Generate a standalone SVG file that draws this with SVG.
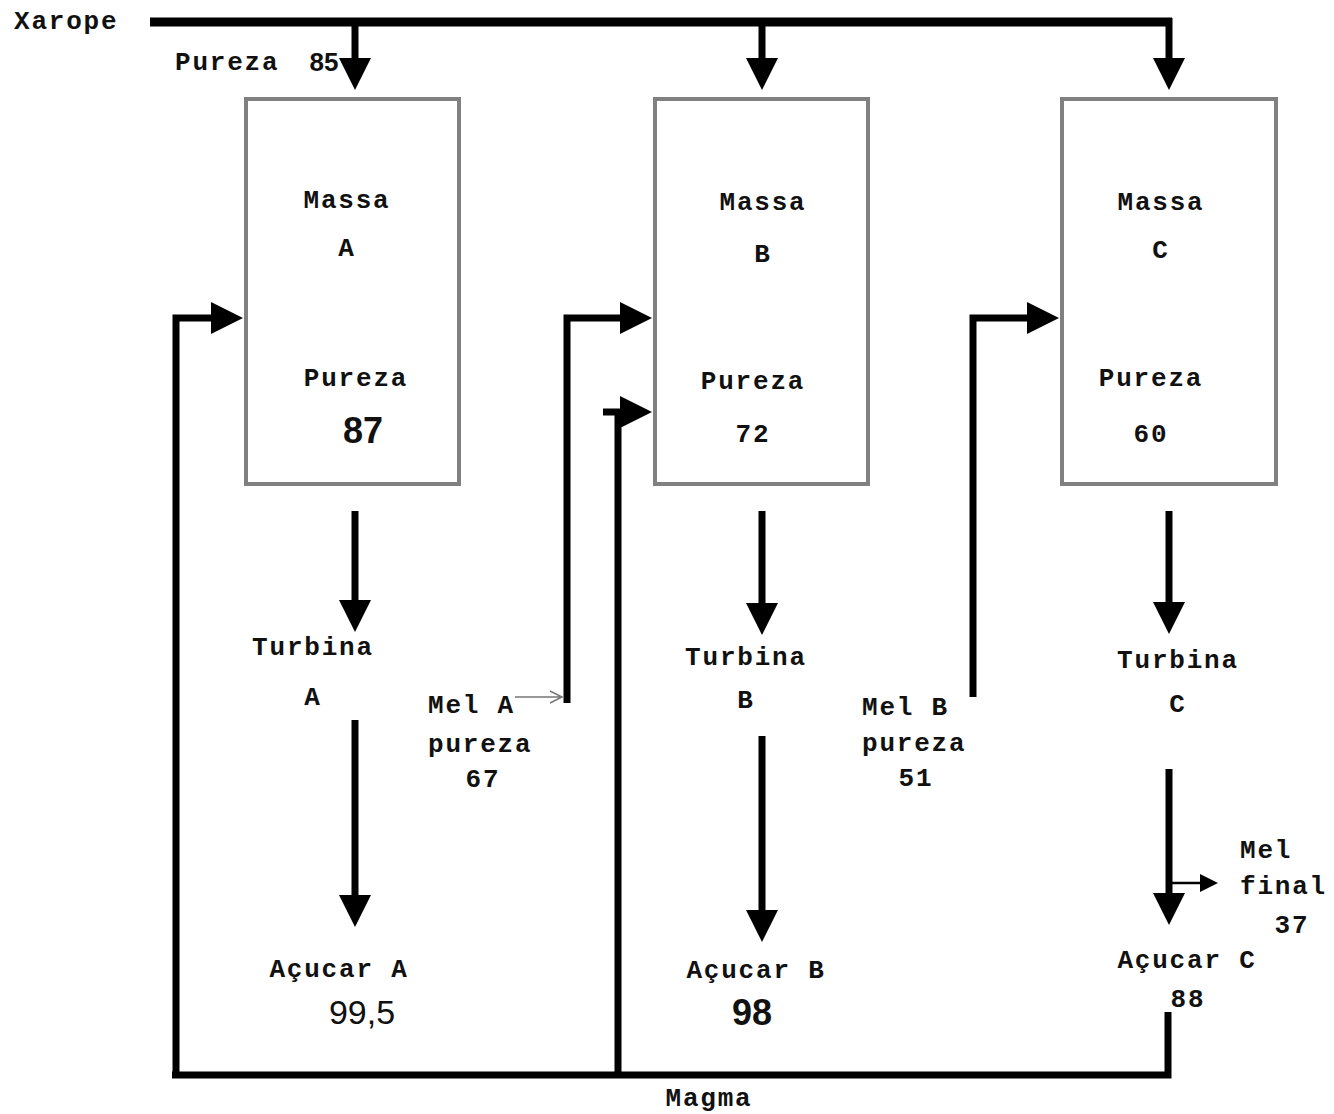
<svg xmlns="http://www.w3.org/2000/svg" width="1334" height="1114" viewBox="0 0 1334 1114">
<style>
.t{font-family:"Liberation Mono","DejaVu Sans Mono",monospace;font-size:26px;letter-spacing:1.8px;fill:#111;font-weight:bold}
.m{text-anchor:middle}
.n{font-family:"Liberation Sans",Arial,sans-serif;fill:#111;text-anchor:middle}
.box{fill:#fff;stroke:#808080;stroke-width:4}
.ln{fill:none;stroke:#000;stroke-width:7}
</style>
<defs>
<marker id="ah" markerUnits="userSpaceOnUse" viewBox="0 0 10 10" refX="0" refY="5" markerWidth="35" markerHeight="32" orient="auto">
<path d="M0,0 L10,5 L0,10 Z" fill="#000"/>
</marker>
<marker id="ahs" markerUnits="userSpaceOnUse" viewBox="0 0 10 10" refX="0" refY="5" markerWidth="22" markerHeight="18" orient="auto">
<path d="M0,0 L10,5 L0,10 Z" fill="#000"/>
</marker>
</defs>
<rect width="1334" height="1114" fill="#fff"/>
<g id="nodes">
<g id="boxA"><rect class="box" x="246" y="99" width="213" height="385"/>
<text class="t m" x="347" y="208">Massa</text><text class="t m" x="347" y="256">A</text>
<text class="t m" x="356" y="386">Pureza</text><text class="n" x="363" y="443" font-size="36" font-weight="bold">87</text></g>
<g id="boxB"><rect class="box" x="655" y="99" width="213" height="385"/>
<text class="t m" x="763" y="210">Massa</text><text class="t m" x="763" y="262">B</text>
<text class="t m" x="753" y="389">Pureza</text><text class="t m" x="753" y="442">72</text></g>
<g id="boxC"><rect class="box" x="1062" y="99" width="214" height="385"/>
<text class="t m" x="1161" y="210">Massa</text><text class="t m" x="1161" y="258">C</text>
<text class="t m" x="1151" y="386">Pureza</text><text class="t m" x="1151" y="442">60</text></g>
<g id="xarope"><text class="t" x="14" y="29">Xarope</text>
<text class="t" x="175" y="70">Pureza</text><text class="n" x="324" y="71" font-size="26" font-weight="bold">85</text></g>
<g id="turbinaA"><text class="t m" x="313" y="655">Turbina</text><text class="t m" x="313" y="705">A</text></g>
<g id="turbinaB"><text class="t m" x="746" y="665">Turbina</text><text class="t m" x="746" y="708">B</text></g>
<g id="turbinaC"><text class="t m" x="1178" y="668">Turbina</text><text class="t m" x="1178" y="712">C</text></g>
<g id="acucarA"><text class="t m" x="339" y="977">Açucar A</text><text class="n" x="362" y="1024" font-size="34">99,5</text></g>
<g id="acucarB"><text class="t m" x="756" y="978">Açucar B</text><text class="n" x="752" y="1025" font-size="36" font-weight="bold">98</text></g>
<g id="acucarC"><text class="t m" x="1187" y="968">Açucar C</text><text class="t m" x="1188" y="1007" font-size="21">88</text></g>
<g id="melA"><text class="t" x="428" y="713">Mel A</text><text class="t" x="428" y="752">pureza</text><text class="t m" x="483" y="787">67</text></g>
<g id="melB"><text class="t" x="862" y="715">Mel B</text><text class="t" x="862" y="751">pureza</text><text class="t m" x="916" y="786">51</text></g>
<g id="melFinal"><text class="t" x="1240" y="858">Mel</text><text class="t" x="1240" y="894">final</text><text class="t m" x="1292" y="933">37</text></g>
<g id="magma"><text class="t m" x="709" y="1106">Magma</text></g>
</g>
<g id="connectors">
<path d="M150,22 H1172" stroke="#000" stroke-width="9" fill="none"/>
<path class="ln" d="M355,22 V58" marker-end="url(#ah)"/>
<path class="ln" d="M762,22 V58" marker-end="url(#ah)"/>
<path class="ln" d="M1169,18 V58" marker-end="url(#ah)"/>
<path class="ln" d="M355,511 V600" marker-end="url(#ah)"/>
<path class="ln" d="M355,720 V895" marker-end="url(#ah)"/>
<path class="ln" d="M762,511 V603" marker-end="url(#ah)"/>
<path class="ln" d="M762,736 V910" marker-end="url(#ah)"/>
<path class="ln" d="M1169,511 V602" marker-end="url(#ah)"/>
<path class="ln" d="M1169,769 V893" marker-end="url(#ah)"/>
<path d="M1169,883 H1200" stroke="#000" stroke-width="2.5" fill="none" marker-end="url(#ahs)"/>
<path class="ln" d="M176,1075 V318 H211" marker-end="url(#ah)"/>
<path class="ln" d="M567,703 V318 H620" marker-end="url(#ah)"/>
<path class="ln" d="M973,697 V318 H1027" marker-end="url(#ah)"/>
<path class="ln" d="M618,1075 V409"/>
<path class="ln" d="M603,412 H620" marker-end="url(#ah)"/>
<path class="ln" d="M1168,1012 V1075 H172"/>
<path d="M515,697 H562 M550,691 L562,697 L550,703" stroke="#777" stroke-width="1.5" fill="none"/>
</g>
</svg>
